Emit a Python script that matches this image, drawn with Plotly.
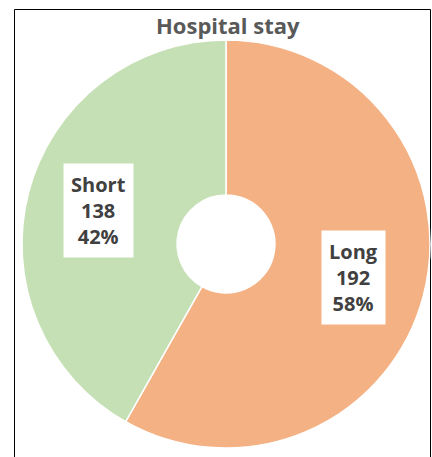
import math
import plotly.graph_objects as go

labels = ["Long", "Short"]
values = [192, 138]
colors = ["#F4B183", "#C5E0B4"]
title_text = "Hospital stay"

W, H = 432, 457
cx, cy, r = 226, 244, 204  # pixel centre and radius of the pie

fig = go.Figure(go.Pie(
    labels=labels, values=values, sort=False, direction="clockwise", rotation=0,
    hole=0.24, textinfo="none", hoverinfo="label+value+percent",
    marker=dict(colors=colors, line=dict(color="white", width=1.5)),
    domain=dict(x=[(cx - r) / W, (cx + r) / W], y=[1 - (cy + r) / H, 1 - (cy - r) / H]),
    showlegend=False,
))

total = sum(values)
cum = 0
for lab, v in zip(labels, values):
    mid = (cum + v / 2) / total * 2 * math.pi
    cum += v
    px = cx + 0.645 * r * math.sin(mid)
    py = cy - 0.645 * r * math.cos(mid)
    fig.add_annotation(
        x=px / W, y=1 - py / H, xref="paper", yref="paper", showarrow=False,
        xanchor="center", yanchor="middle",
        text=f"{lab}<br>{v}<br>{round(v / total * 100)}%",
        font=dict(family="Open Sans", size=20, color="#404040", weight="bold"),
        bgcolor="white", borderpad=7, align="center",
    )

fig.add_annotation(
    x=228 / W, y=1 - 25 / H, xref="paper", yref="paper", showarrow=False,
    xanchor="center", yanchor="middle",
    text=title_text, font=dict(family="Open Sans", size=22, color="#595959", weight="bold"),
)

fig.add_shape(type="rect", xref="paper", yref="paper",
              x0=14.5 / W, x1=430.5 / W, y0=-0.1, y1=1 - 9.5 / H,
              line=dict(color="black", width=1), fillcolor="rgba(0,0,0,0)", layer="below")

fig.update_layout(width=W, height=H, margin=dict(l=0, r=0, t=0, b=0),
                  paper_bgcolor="white", plot_bgcolor="white")
fig.write_html("out.html")
